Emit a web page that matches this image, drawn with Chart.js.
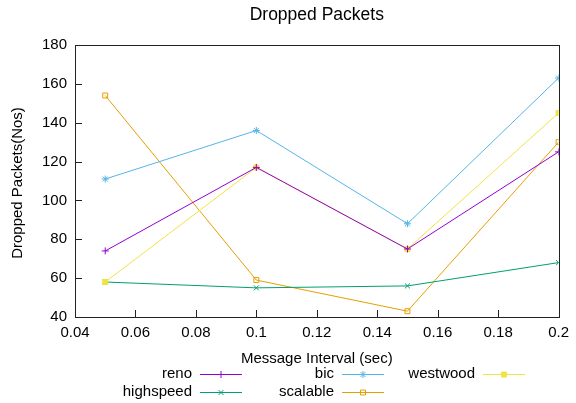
<!DOCTYPE html>
<html>
<head>
<meta charset="utf-8">
<script src="https://cdn.jsdelivr.net/npm/chart.js@4"></script>
<style>
  html, body { margin: 0; padding: 0; background: #fff; }
  #wrap { width: 576px; height: 403px; }
</style>
</head>
<body>
<div id="wrap"><canvas id="grafico" width="576" height="403"></canvas></div>
<script>
// dados
const intervalos = [0.05, 0.1, 0.15, 0.2];
const reno      = [74, 117, 75, 125];
const bic       = [111, 136, 88, 163];
const westwood  = [58, 117, 75, 145];
const highspeed = [58, 55, 56, 68];
const scalable  = [154, 59, 43, 130];

const titulo = 'Dropped Packets';
const tituloX = 'Message Interval (sec)';
const tituloY = 'Dropped Packets(Nos)';

const FONTE = '"Liberation Sans", Arial, sans-serif';

function serie(label, valores, cor, estilo, fundo) {
    return {
        label: label,
        data: intervalos.map((x, i) => ({ x: x, y: valores[i] })),
        borderColor: cor,
        backgroundColor: fundo,
        borderWidth: 1,
        pointStyle: estilo,
        pointRadius: 3.5,
        pointBorderWidth: 1,
        pointBackgroundColor: fundo,
        pointBorderColor: cor,
        tension: 0
    };
}

const datasets = [
    serie('reno', reno, '#9400D3', 'cross', '#9400D3'),
    serie('bic', bic, '#56B4E9', 'star', '#56B4E9'),
    serie('westwood', westwood, '#F0E442', 'rect', '#F0E442'),
    serie('highspeed', highspeed, '#009E73', 'crossRot', '#009E73'),
    serie('scalable', scalable, '#E69F00', 'rect', 'rgba(255,255,255,0)')
];

// moldura, ticks para dentro, títulos e legenda estilo gnuplot
const estiloGnuplot = {
    id: 'estiloGnuplot',
    afterDraw(chart) {
        const ctx = chart.ctx;
        const a = chart.chartArea;
        const sx = chart.scales.x, sy = chart.scales.y;
        ctx.save();
        ctx.strokeStyle = '#222';
        ctx.lineWidth = 1;
        ctx.strokeRect(Math.round(a.left) + 0.5, Math.round(a.top) + 0.5,
                       Math.round(a.right - a.left), Math.round(a.bottom - a.top));
        ctx.beginPath();
        sx.ticks.forEach(t => {
            const px = Math.round(sx.getPixelForValue(t.value)) + 0.5;
            ctx.moveTo(px, a.bottom);
            ctx.lineTo(px, a.bottom - 7);
        });
        sy.ticks.forEach(t => {
            const py = Math.round(sy.getPixelForValue(t.value)) + 0.5;
            ctx.moveTo(a.left, py);
            ctx.lineTo(a.left + 7, py);
        });
        ctx.stroke();

        ctx.fillStyle = '#000';
        ctx.font = '17.5px ' + FONTE;
        ctx.textAlign = 'center';
        ctx.textBaseline = 'middle';
        ctx.fillText(titulo, (a.left + a.right) / 2, 15);

        ctx.font = '15px ' + FONTE;
        ctx.fillText(tituloX, (a.left + a.right) / 2, 359);

        ctx.save();
        ctx.translate(18, (a.top + a.bottom) / 2 + 2);
        ctx.rotate(-Math.PI / 2);
        ctx.fillText(tituloY, 0, 0);
        ctx.restore();

        // legenda
        const colunas = [192, 334, 475];
        const linhas = [374, 392];
        chart.data.datasets.forEach((ds, i) => {
            const tx = colunas[i % 3];
            const ty = linhas[Math.floor(i / 3)];
            ctx.fillStyle = '#000';
            ctx.textAlign = 'right';
            ctx.fillText(ds.label, tx, ty);
            ctx.strokeStyle = ds.borderColor;
            ctx.lineWidth = 1;
            ctx.beginPath();
            ctx.moveTo(tx + 8, ty + 0.5);
            ctx.lineTo(tx + 50, ty + 0.5);
            ctx.stroke();
            ctx.fillStyle = ds.pointBackgroundColor;
            if (Chart.helpers && Chart.helpers.drawPoint) {
                Chart.helpers.drawPoint(ctx, {
                    pointStyle: ds.pointStyle, rotation: 0,
                    radius: ds.pointRadius, borderWidth: 1
                }, tx + 29, ty + 0.5);
            }
        });
        ctx.restore();
    }
};

new Chart(document.getElementById('grafico').getContext('2d'), {
    type: 'line',
    data: { datasets: datasets },
    plugins: [estiloGnuplot],
    options: {
        responsive: false,
        animation: false,
        layout: { padding: { top: 45, right: 12, left: 0, bottom: 0 } },
        plugins: {
            legend: { display: false },
            title: { display: false },
            tooltip: { enabled: false }
        },
        scales: {
            x: {
                type: 'linear',
                min: 0.04, max: 0.2,
                ticks: {
                    stepSize: 0.02,
                    color: '#000',
                    font: { family: FONTE, size: 15 },
                    padding: 7,
                    maxRotation: 0,
                    callback: v => String(+v.toFixed(2))
                },
                grid: { display: false, drawTicks: false },
                border: { display: false },
                afterFit: s => { s.height = 86; }
            },
            y: {
                min: 40, max: 180,
                ticks: {
                    stepSize: 20,
                    color: '#000',
                    font: { family: FONTE, size: 15 },
                    padding: 8
                },
                grid: { display: false, drawTicks: false },
                border: { display: false },
                afterFit: s => { s.width = 75; }
            }
        }
    }
});
</script>
</body>
</html>
